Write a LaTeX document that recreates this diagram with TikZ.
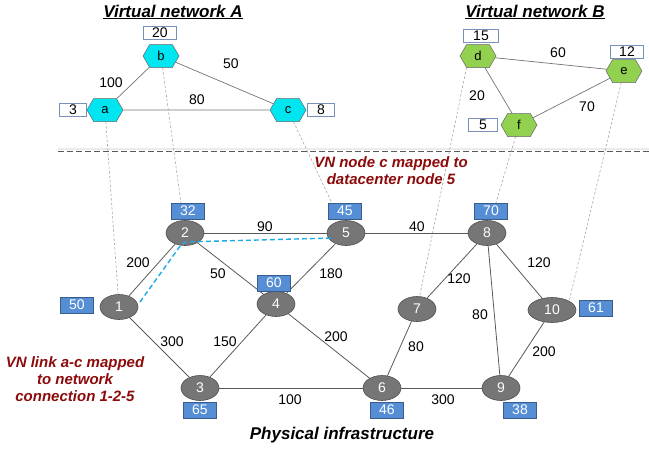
\documentclass[tikz,border=0pt]{standalone}
\usepackage{fontspec}
\setmainfont{Liberation Sans}
\usetikzlibrary{shapes.symbols,shapes.geometric,backgrounds}
\definecolor{hexA}{RGB}{0,230,240}
\definecolor{hexB}{RGB}{146,208,80}
\definecolor{pnode}{RGB}{118,118,118}
\definecolor{pborder}{RGB}{80,80,80}
\definecolor{bbox}{RGB}{85,142,213}
\definecolor{bboxb}{RGB}{56,93,138}
\definecolor{wboxb}{RGB}{120,145,185}
\definecolor{darkred}{RGB}{140,10,10}
\definecolor{lnk}{RGB}{30,170,230}
\begin{document}
\begin{tikzpicture}[x=1pt,y=-1pt,
 pnd/.style={ellipse, fill=pnode, draw=pborder, line width=0.6, minimum width=38, minimum height=25, inner sep=0, text=white, font=\fontsize{14}{14}\selectfont},
 vhex/.style={signal, signal to=east and west, signal pointer angle=120, draw=black!60, line width=0.5, minimum width=36, minimum height=23, inner sep=0, font=\fontsize{13}{13}\selectfont},
 va/.style={vhex, fill=hexA},
 vb/.style={vhex, fill=hexB},
 cbox/.style={rectangle, fill=bbox, draw=bboxb, line width=0.8, minimum width=33, minimum height=16, inner sep=0, text=white, font=\fontsize{14}{14}\selectfont},
 wbox/.style={rectangle, fill=white, draw=wboxb, line width=0.8, minimum height=13, inner sep=0, font=\fontsize{14}{14}\selectfont},
 lbl/.style={font=\fontsize{14}{14}\selectfont, inner sep=0},
 pedge/.style={draw=black!65, line width=0.8},
 vedge/.style={draw=black!55, line width=0.7},
 mapline/.style={draw=black!35, dash pattern=on 2.5pt off 2pt, line width=0.6},
 note/.style={text=darkred, font=\fontsize{15}{17}\selectfont\bfseries\itshape, align=center, inner sep=0},
 ttl/.style={font=\fontsize{17}{17}\selectfont\bfseries\itshape, inner sep=0}
]
\useasboundingbox (0,0) rectangle (649,450);

% titles
\node[ttl] (tA) at (173,12) {\underline{Virtual network A}};
\node[ttl] (tB) at (535,12) {\underline{Virtual network B}};
\node[ttl] (tP) at (342,435) {Physical infrastructure};

% virtual nodes
\node[va] (a) at (105,110) {a};
\node[va] (b) at (161,56) {b};
\node[va] (c) at (288,110) {c};
\node[vb] (d) at (478,56) {d};
\node[vb] (e) at (624,71) {e};
\node[vb] (f) at (519,125) {f};

\node[wbox, minimum width=33] (wb) at (160,33) {20};
\node[wbox, minimum width=27] (wa) at (73,110) {3};
\node[wbox, minimum width=27] (wc) at (321,110) {8};
\node[wbox, minimum width=35] (wd) at (481,36) {15};
\node[wbox, minimum width=33] (we) at (627,52) {12};
\node[wbox, minimum width=29] (wf) at (483,125) {5};

% physical nodes
\node[pnd] (n1) at (119,307) {1};
\node[pnd] (n2) at (185,233) {2};
\node[pnd] (n3) at (200,388) {3};
\node[pnd] (n4) at (276,304) {4};
\node[pnd] (n5) at (346,233) {5};
\node[pnd] (n6) at (382,388) {6};
\node[pnd] (n7) at (417,309) {7};
\node[pnd] (n8) at (487,233) {8};
\node[pnd] (n9) at (501,388) {9};
\node[pnd, minimum width=48] (n10) at (552,310) {10};

\node[cbox] (c32) at (188,211) {32};
\node[cbox] (c45) at (345,211) {45};
\node[cbox] (c70) at (491,211) {70};
\node[cbox] (c60) at (274,283) {60};
\node[cbox] (c50) at (77,305) {50};
\node[cbox] (c61) at (596,308) {61};
\node[cbox] (c65) at (200,410) {65};
\node[cbox] (c46) at (387,410) {46};
\node[cbox] (c38) at (520,410) {38};

% edge labels
\node[lbl] (l1) at (111,83) {100};
\node[lbl] (l2) at (231,64) {50};
\node[lbl] (l3) at (197,100) {80};
\node[lbl] (l4) at (558,53) {60};
\node[lbl] (l5) at (477,96) {20};
\node[lbl] (l6) at (587,107) {70};
\node[lbl] (m1) at (138,263) {200};
\node[lbl] (m2) at (265,227) {90};
\node[lbl] (m3) at (218,274) {50};
\node[lbl] (m4) at (331,274) {180};
\node[lbl] (m5) at (417,227) {40};
\node[lbl] (m6) at (459,279) {120};
\node[lbl] (m7) at (539,263) {120};
\node[lbl] (m8) at (480,315) {80};
\node[lbl] (m9) at (544,352) {200};
\node[lbl] (m10) at (172,342) {300};
\node[lbl] (m11) at (225,342) {150};
\node[lbl] (m12) at (336,337) {200};
\node[lbl] (m13) at (416,347) {80};
\node[lbl] (m14) at (290,400) {100};
\node[lbl] (m15) at (443,400) {300};

% notes
\node[note] (nt1) at (391,171) {VN node c mapped to\\datacenter node 5};
\node[note] (nt2) at (75,379) {VN link a-c mapped\\to network\\connection 1-2-5};

\coordinate (s1) at (58,151);
\coordinate (s2) at (649,151);
\coordinate (q1) at (140,302);
\coordinate (q2) at (183,242);
\coordinate (q5) at (333,238);

\begin{pgfonlayer}{background}
 % separator
 \draw[black!8, line width=2.5] ([yshift=2]s1) -- ([yshift=2]s2);
 \draw[black!65, line width=1, dash pattern=on 6pt off 3pt] (s1) -- (s2);
 % virtual edges
 \draw[vedge] (a) -- (b);
 \draw[vedge] (b) -- (c);
 \draw[vedge] (a) -- (c);
 \draw[vedge] (d) -- (e);
 \draw[vedge] (d) -- (f);
 \draw[vedge] (f) -- (e);
 % mapping lines
 \draw[mapline] (a) -- (n1);
 \draw[mapline] (b) -- (n2);
 \draw[mapline] (c) -- (n5);
 \draw[mapline] (d.south west) -- (n7);
 \draw[mapline] (f) -- (n8);
 \draw[mapline] (e) -- (n10.north east);
 % physical edges
 \draw[pedge] (n1) -- (n2);
 \draw[pedge] (n2) -- (n5);
 \draw[pedge] (n2) -- (n4);
 \draw[pedge] (n4) -- (n5);
 \draw[pedge] (n5) -- (n8);
 \draw[pedge] (n8) -- (n7);
 \draw[pedge] (n8) -- (n10);
 \draw[pedge] (n8) -- (n9);
 \draw[pedge] (n10) -- (n9);
 \draw[pedge] (n1) -- (n3);
 \draw[pedge] (n3) -- (n4);
 \draw[pedge] (n4) -- (n6);
 \draw[pedge] (n7) -- (n6);
 \draw[pedge] (n3) -- (n6);
 \draw[pedge] (n6) -- (n9);
\end{pgfonlayer}
% mapped link
\draw[lnk, line width=1.4, dash pattern=on 5pt off 3pt, rounded corners=4] (q1) -- (q2) -- (q5);
\end{tikzpicture}
\end{document}
